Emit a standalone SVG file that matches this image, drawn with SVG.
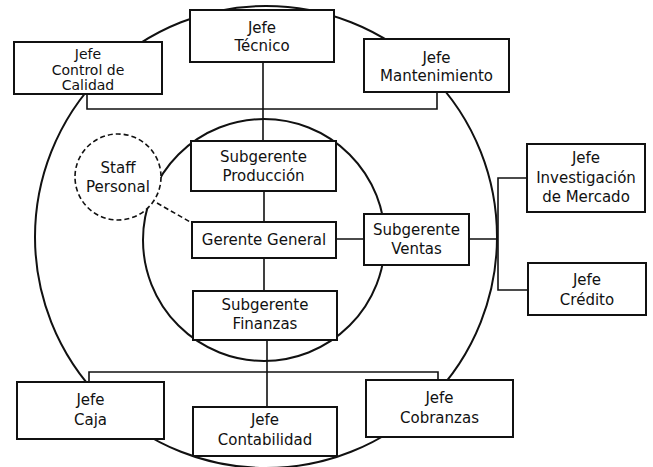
<svg xmlns="http://www.w3.org/2000/svg" width="653" height="467" viewBox="0 0 653 467">
<style>
.ring{fill:none;stroke:#111;stroke-width:2}
.box{fill:#fff;stroke:#111;stroke-width:2}
.ln{fill:none;stroke:#111;stroke-width:1.6}
.dash{fill:none;stroke:#111;stroke-width:1.6;stroke-dasharray:5 3}
text{font-family:"DejaVu Sans","Liberation Sans",sans-serif;font-size:15px;fill:#111;text-anchor:middle}
.tight{font-size:14px}
</style>
<rect width="653" height="467" fill="#fff"/>
<g id="rings">
<circle class="ring" cx="266" cy="237" r="231"/>
<circle class="ring" cx="264" cy="240" r="121"/>
</g>
<g id="connectors">
<path class="ln" d="M263 62V141M264 191V222M264 258V291M267 340V407"/>
<path class="ln" d="M87 94V109H437V92"/>
<path class="ln" d="M89 382V372H438V380"/>
<path class="ln" d="M336 239H364M469 239H498M527 178H498V290H528"/>
<path class="dash" d="M157 203L192 223"/>
</g>
<g id="staff">
<circle cx="118" cy="177" r="43" fill="#fff" stroke="#111" stroke-width="1.6" stroke-dasharray="5 3"/>
<text x="118" y="173">Staff</text><text x="118" y="192">Personal</text>
</g>
<g id="tecnico"><rect class="box" x="190" y="10" width="144" height="52"/><text x="262" y="33">Jefe</text><text x="262" y="51">Técnico</text></g>
<g id="calidad"><rect class="box" x="14" y="42" width="148" height="52"/><text class="tight" x="88" y="59">Jefe</text><text class="tight" x="88" y="74.5">Control de</text><text class="tight" x="88" y="90">Calidad</text></g>
<g id="mantenimiento"><rect class="box" x="364" y="39" width="145" height="53"/><text x="436.5" y="63">Jefe</text><text x="436.5" y="81">Mantenimiento</text></g>
<g id="produccion"><rect class="box" x="191" y="141" width="145" height="50"/><text x="263.5" y="162">Subgerente</text><text x="263.5" y="181">Producción</text></g>
<g id="gerente"><rect class="box" x="192" y="222" width="144" height="36"/><text x="264" y="245">Gerente General</text></g>
<g id="finanzas"><rect class="box" x="193" y="291" width="144" height="49"/><text x="265" y="310">Subgerente</text><text x="265" y="329">Finanzas</text></g>
<g id="ventas"><rect class="box" x="364" y="214" width="105" height="51"/><text x="416.5" y="235">Subgerente</text><text x="416.5" y="254">Ventas</text></g>
<g id="investigacion"><rect class="box" x="527" y="144" width="118" height="68"/><text x="586" y="163">Jefe</text><text x="586" y="183">Investigación</text><text x="586" y="202">de Mercado</text></g>
<g id="credito"><rect class="box" x="528" y="263" width="118" height="52"/><text x="587" y="285">Jefe</text><text x="587" y="305">Crédito</text></g>
<g id="caja"><rect class="box" x="17" y="382" width="147" height="57"/><text x="90.5" y="405">Jefe</text><text x="90.5" y="425">Caja</text></g>
<g id="contabilidad"><rect class="box" x="193" y="407" width="144" height="49"/><text x="265" y="425">Jefe</text><text x="265" y="445">Contabilidad</text></g>
<g id="cobranzas"><rect class="box" x="366" y="380" width="147" height="57"/><text x="439.5" y="403">Jefe</text><text x="439.5" y="423">Cobranzas</text></g>
</svg>
